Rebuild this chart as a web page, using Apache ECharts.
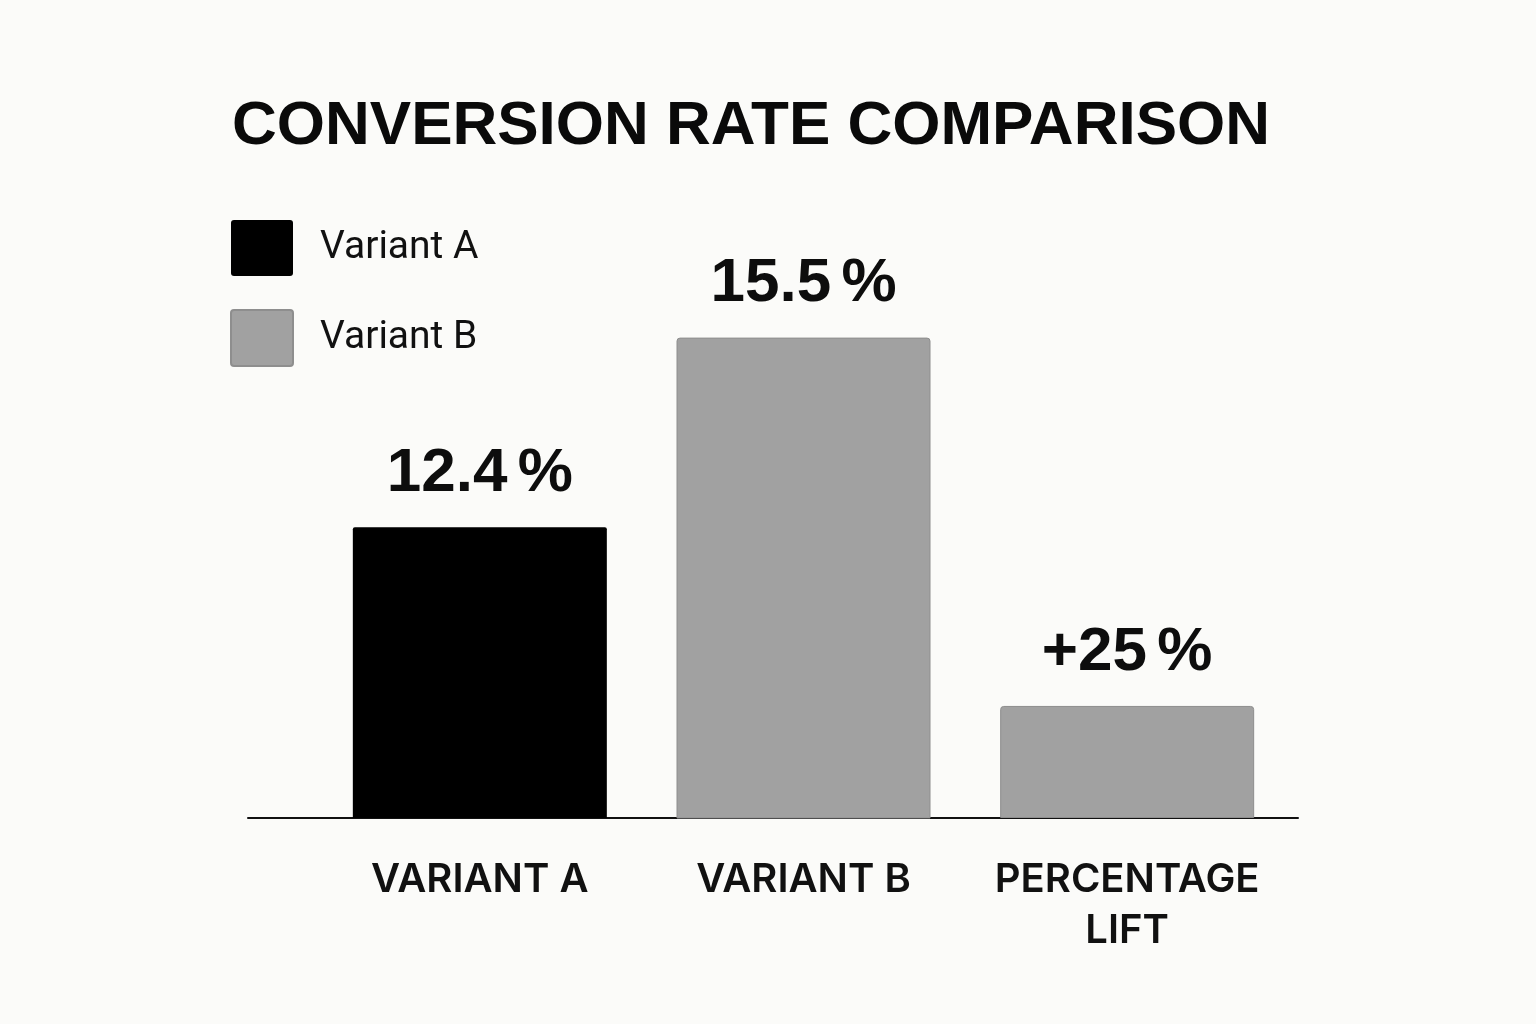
<!DOCTYPE html>
<html>
<head>
<meta charset="utf-8">
<script src="https://cdn.jsdelivr.net/npm/echarts@6/dist/echarts.min.js"></script>
<style>
  html, body { margin: 0; padding: 0; background: #fbfbf9; }
  #chart { width: 1536px; height: 1024px; }
</style>
</head>
<body>
<div id="chart"></div>
<script>
// ---- data ----
const categories = ['VARIANT A', 'VARIANT B', 'PERCENTAGE\nLIFT'];
const legendNames = ['Variant A', 'Variant B'];
const variantARate = [12.4, '-', '-'];      // conversion rate, %
const variantBRate = ['-', 15.5, '-'];      // conversion rate, %
const percentageLift = ['-', '-', 25];      // lift of B over A, %

const chart = echarts.init(document.getElementById('chart'), null, { renderer: 'canvas' });

const valueLabel = (prefix) => ({
  show: true,
  position: 'top',
  distance: 22,
  fontFamily: 'Liberation Sans',
  fontWeight: 'bold',
  fontSize: 62,
  lineHeight: 63,
  color: '#0d0d0d',
  formatter: (p) => prefix + p.value + '\u2006%'
});

const gray = '#a1a1a1';
const grayBorder = '#8e8e8e';
const boxIcon = 'path://M3,0H59Q62,0,62,3V53Q62,56,59,56H3Q0,56,0,53V3Q0,0,3,0Z';

chart.setOption({
  backgroundColor: '#fbfbf9',
  animation: false,
  title: {
    text: 'CONVERSION RATE COMPARISON',
    left: 232,
    top: 96,
    padding: 0,
    textStyle: {
      fontFamily: 'Liberation Sans',
      fontWeight: 'bold',
      fontSize: 62,
      lineHeight: 62,
      color: '#0a0a0a'
    }
  },
  legend: {
    data: legendNames,
    orient: 'vertical',
    left: 230,
    top: 220,
    padding: 0,
    itemWidth: 62,
    itemHeight: 56,
    itemGap: 33,
    icon: boxIcon,
    textStyle: {
      fontFamily: 'Roboto',
      fontSize: 39,
      color: '#111111',
      padding: [6, 0, 0, 22]
    }
  },
  grid: [
    { left: 318, width: 971, top: 307, bottom: 206 },
    { left: 248, right: 238, top: 307, bottom: 206 }
  ],
  xAxis: [
    {
      type: 'category',
      gridIndex: 0,
      data: categories,
      axisLine: { show: false },
      axisTick: { show: false },
      axisLabel: {
        interval: 0,
        hideOverlap: false,
        margin: 36,
        fontFamily: 'Inter',
        fontWeight: 600,
        fontSize: 40,
        lineHeight: 51,
        color: '#111111'
      }
    },
    {
      type: 'value',
      gridIndex: 1,
      min: 0,
      max: 1,
      axisLine: { show: true, lineStyle: { color: '#111111', width: 2 } },
      axisTick: { show: false },
      axisLabel: { show: false },
      splitLine: { show: false }
    }
  ],
  yAxis: [
    { type: 'value', gridIndex: 0, min: 7.65, max: 16, show: false, splitLine: { show: false } },
    { type: 'value', gridIndex: 0, min: 0, max: 114, show: false, splitLine: { show: false } },
    { type: 'value', gridIndex: 1, min: 0, max: 1, show: false, splitLine: { show: false } }
  ],
  series: [
    {
      name: 'Variant A',
      type: 'bar',
      xAxisIndex: 0,
      yAxisIndex: 0,
      data: variantARate,
      barWidth: 254,
      barGap: '-100%',
      itemStyle: { color: '#000000', borderRadius: [2, 2, 0, 0] },
      label: valueLabel('')
    },
    {
      name: 'Variant B',
      type: 'bar',
      xAxisIndex: 0,
      yAxisIndex: 0,
      data: variantBRate,
      barWidth: 254,
      barGap: '-100%',
      itemStyle: { color: gray, borderColor: grayBorder, borderWidth: 1, borderRadius: [3, 3, 0, 0] },
      label: valueLabel('')
    },
    {
      name: 'Percentage Lift',
      type: 'bar',
      xAxisIndex: 0,
      yAxisIndex: 1,
      data: percentageLift,
      barWidth: 254,
      barGap: '-100%',
      itemStyle: { color: gray, borderColor: grayBorder, borderWidth: 1, borderRadius: [3, 3, 0, 0] },
      label: valueLabel('+')
    }
  ]
});
</script>
</body>
</html>
